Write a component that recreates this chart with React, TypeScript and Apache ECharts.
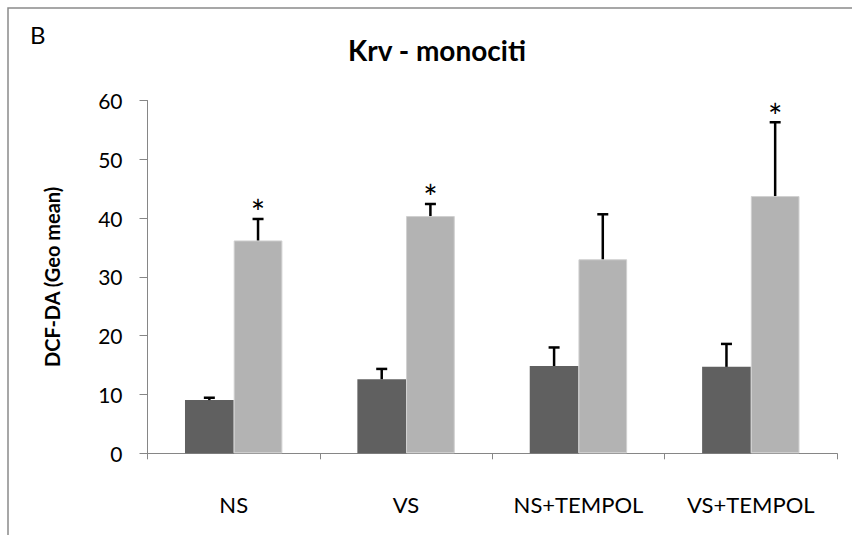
import React, { useEffect, useRef } from "react";
import * as echarts from "echarts";

const categories = ["NS", "VS", "NS+TEMPOL", "VS+TEMPOL"];
const darkValues = [9.05, 12.6, 14.85, 14.7];
const darkErrors = [0.4, 1.75, 3.15, 3.9];
const lightValues = [36.2, 40.35, 33.0, 43.75];
const lightErrors = [3.65, 2.05, 7.65, 12.55];
const lightMarks = ["*", "*", "", "*"];
const yTicks = { min: 0, max: 60, interval: 10 };

const FONT = "Lato, 'Open Sans', sans-serif";
const BAR_GAP_CAT = 0.435;

export default function App() {
  const ref = useRef<HTMLDivElement>(null);
  useEffect(() => {
    if (!ref.current) return;
    const chart = echarts.init(ref.current, null, { renderer: "svg" });

    const errData: any[] = [];
    categories.forEach((_, i) => {
      errData.push([i, darkValues[i], darkValues[i] + darkErrors[i], -1]);
      errData.push([i, lightValues[i], lightValues[i] + lightErrors[i], 1]);
    });
    const marks: string[] = [];
    categories.forEach((_, i) => {
      marks.push("");
      marks.push(lightMarks[i]);
    });

    chart.setOption({
      animation: false,
      backgroundColor: "#ffffff",
      textStyle: { fontFamily: FONT },
      graphic: [
        {
          type: "polyline",
          shape: { points: [[8, 540], [8, 8], [860, 8]] },
          style: { stroke: "#8a8a8a", lineWidth: 1.5, fill: null },
          silent: true,
        },
        {
          type: "text",
          left: 30,
          top: 22,
          style: { text: "B", fontSize: 24, fontFamily: FONT, fill: "#000" },
        },
      ],
      title: {
        text: "Krv - monociti",
        left: 432,
        top: 31,
        textAlign: "center",
        textStyle: { fontSize: 28, fontWeight: "bold", fontFamily: FONT, color: "#000" },
      },
      grid: { left: 147.5, right: 15, top: 100.5, bottom: 81.7, containLabel: false },
      xAxis: {
        type: "category",
        data: categories,
        axisLine: { lineStyle: { color: "#868686", width: 1 } },
        axisTick: { show: true, length: 6, alignWithLabel: false, lineStyle: { color: "#868686" } },
        axisLabel: { margin: 40, fontSize: 22, color: "#000", fontFamily: FONT },
        splitLine: { show: false },
      },
      yAxis: {
        type: "value",
        min: yTicks.min,
        max: yTicks.max,
        interval: yTicks.interval,
        name: "DCF-DA (Geo mean)",
        nameLocation: "middle",
        nameGap: 86,
        nameRotate: 90,
        nameTextStyle: { fontSize: 20, fontWeight: "bold", color: "#000", fontFamily: FONT },
        axisLine: { show: true, lineStyle: { color: "#868686", width: 1 } },
        axisTick: { show: true, length: 8, lineStyle: { color: "#868686" } },
        axisLabel: { margin: 25, fontSize: 21, color: "#000", fontFamily: FONT },
        splitLine: { show: false },
      },
      series: [
        {
          type: "bar",
          data: darkValues,
          barGap: "0%",
          barCategoryGap: BAR_GAP_CAT * 100 + "%",
          itemStyle: { color: "#606060" },
        },
        {
          type: "bar",
          data: lightValues,
          barGap: "0%",
          barCategoryGap: BAR_GAP_CAT * 100 + "%",
          itemStyle: { color: "#b3b3b3", borderColor: "#d0d0d0", borderWidth: 1 },
        },
        {
          type: "custom",
          data: errData,
          z: 10,
          itemStyle: { color: "#000000" },
          renderItem: (params: any, api: any) => {
            const cat = api.value(0);
            const lo = api.value(1);
            const hi = api.value(2);
            const side = api.value(3);
            const mark = marks[params.dataIndex];
            const band = api.size([1, 0])[0];
            const bw = (band * (1 - BAR_GAP_CAT)) / 2;
            const pLo = api.coord([cat, lo]);
            const pHi = api.coord([cat, hi]);
            const x = pLo[0] + (side * bw) / 2;
            const capHalf = 5.5;
            const children: any[] = [
              {
                type: "line",
                shape: { x1: x, y1: pLo[1], x2: x, y2: pHi[1] },
                style: { stroke: "#000", lineWidth: 2.5 },
              },
              {
                type: "line",
                shape: { x1: x - capHalf, y1: pHi[1], x2: x + capHalf, y2: pHi[1] },
                style: { stroke: "#000", lineWidth: 2.5 },
              },
            ];
            if (mark) {
              children.push({
                type: "text",
                x: x,
                y: pHi[1] - 24,
                style: {
                  text: mark,
                  fontSize: 34,
                  fontFamily: FONT,
                  fill: "#000000",
                  align: "center",
                  verticalAlign: "top",
                },
              });
            }
            return { type: "group", children };
          },
        },
      ],
    });
    return () => chart.dispose();
  }, []);
  return (
    <div
      ref={ref}
      style={{ position: "absolute", left: 0, top: 0, width: 852, height: 535 }}
    />
  );
}
